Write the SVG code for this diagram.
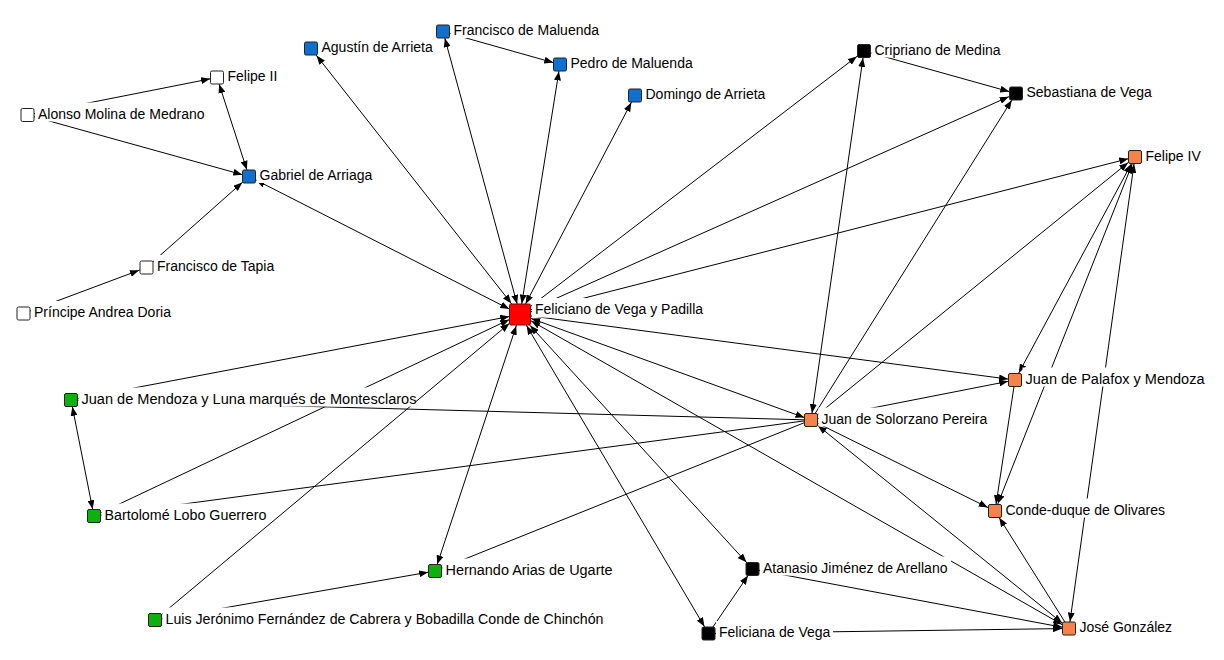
<svg xmlns="http://www.w3.org/2000/svg" width="1224" height="660" viewBox="0 0 1224 660">
<style>
.ln{stroke:#000;stroke-width:1;fill:none}
.lb{fill:#fff}
.t{font-family:"Liberation Sans",Arial,sans-serif;font-size:14px;fill:#000}
.nd{stroke:#222;stroke-width:1}
.w{fill:#fff}.b{fill:#1070D0}.g{fill:#0db00d}.o{fill:#F5824A}.k{fill:#000}.r{fill:#f00;stroke:#800}
</style>
<defs>
<marker id="s7" markerUnits="userSpaceOnUse" markerWidth="9" markerHeight="7" refX="16" refY="3.5" orient="auto-start-reverse"><path d="M0,0 L9,3.5 L0,7 z" fill="#000"/></marker>
<marker id="s8" markerUnits="userSpaceOnUse" markerWidth="9" markerHeight="7" refX="17" refY="3.5" orient="auto-start-reverse"><path d="M0,0 L9,3.5 L0,7 z" fill="#000"/></marker>
<marker id="s9" markerUnits="userSpaceOnUse" markerWidth="9" markerHeight="7" refX="18" refY="3.5" orient="auto-start-reverse"><path d="M0,0 L9,3.5 L0,7 z" fill="#000"/></marker>
<marker id="f11" markerUnits="userSpaceOnUse" markerWidth="9" markerHeight="7" refX="20" refY="3.5" orient="auto-start-reverse"><path d="M0,0 L9,3.5 L0,7 z" fill="#000"/></marker>
<marker id="f12" markerUnits="userSpaceOnUse" markerWidth="9" markerHeight="7" refX="21" refY="3.5" orient="auto-start-reverse"><path d="M0,0 L9,3.5 L0,7 z" fill="#000"/></marker>
<marker id="f13" markerUnits="userSpaceOnUse" markerWidth="9" markerHeight="7" refX="22" refY="3.5" orient="auto-start-reverse"><path d="M0,0 L9,3.5 L0,7 z" fill="#000"/></marker>
<marker id="f14" markerUnits="userSpaceOnUse" markerWidth="9" markerHeight="7" refX="23" refY="3.5" orient="auto-start-reverse"><path d="M0,0 L9,3.5 L0,7 z" fill="#000"/></marker>
<marker id="f15" markerUnits="userSpaceOnUse" markerWidth="9" markerHeight="7" refX="24" refY="3.5" orient="auto-start-reverse"><path d="M0,0 L9,3.5 L0,7 z" fill="#000"/></marker>
</defs>
<rect width="1224" height="660" fill="#fff"/>
<g id="connectors" class="ln">
<line x1="520" y1="314.5" x2="249" y2="176.5" marker-start="url(#f12)" marker-end="url(#s8)"/>
<line x1="520" y1="314.5" x2="311" y2="48.5" marker-start="url(#f14)" marker-end="url(#s9)"/>
<line x1="520" y1="314.5" x2="443" y2="31.5" marker-start="url(#f11)" marker-end="url(#s7)"/>
<line x1="520" y1="314.5" x2="560" y2="64.5" marker-start="url(#f11)" marker-end="url(#s7)"/>
<line x1="520" y1="314.5" x2="635" y2="95.5" marker-start="url(#f12)" marker-end="url(#s8)"/>
<line x1="520" y1="314.5" x2="864" y2="51" marker-end="url(#s9)"/>
<line x1="520" y1="314.5" x2="1016" y2="93.5" marker-end="url(#s8)"/>
<line x1="520" y1="314.5" x2="1135" y2="157" marker-end="url(#s7)"/>
<line x1="520" y1="314.5" x2="1015" y2="380" marker-end="url(#s7)"/>
<line x1="520" y1="314.5" x2="811" y2="420" marker-start="url(#f12)" marker-end="url(#s7)"/>
<line x1="520" y1="314.5" x2="1069" y2="628.5" marker-start="url(#f13)" marker-end="url(#s8)"/>
<line x1="520" y1="314.5" x2="752.5" y2="569" marker-start="url(#f15)" marker-end="url(#s9)"/>
<line x1="520" y1="314.5" x2="708.5" y2="633.5" marker-start="url(#f13)" marker-end="url(#s8)"/>
<line x1="520" y1="314.5" x2="435" y2="571" marker-start="url(#f12)" marker-end="url(#s7)"/>
<line x1="520" y1="314.5" x2="155" y2="620" marker-start="url(#f14)"/>
<line x1="520" y1="314.5" x2="71" y2="400" marker-start="url(#f11)"/>
<line x1="520" y1="314.5" x2="94" y2="516" marker-start="url(#f12)"/>
<line x1="27.5" y1="115" x2="217" y2="77.5" marker-end="url(#s7)"/>
<line x1="27.5" y1="115" x2="249" y2="176.5" marker-end="url(#s7)"/>
<line x1="217" y1="77.5" x2="249" y2="176.5" marker-start="url(#s7)" marker-end="url(#s7)"/>
<line x1="146.5" y1="267.5" x2="249" y2="176.5" marker-end="url(#s9)"/>
<line x1="23.5" y1="313.5" x2="146.5" y2="267.5" marker-end="url(#s8)"/>
<line x1="443" y1="31.5" x2="560" y2="64.5" marker-end="url(#s7)"/>
<line x1="864" y1="51" x2="1016" y2="93.5" marker-end="url(#s7)"/>
<line x1="811" y1="420" x2="864" y2="51" marker-start="url(#s7)" marker-end="url(#s7)"/>
<line x1="811" y1="420" x2="1016" y2="93.5" marker-end="url(#s8)"/>
<line x1="811" y1="420" x2="1135" y2="157" marker-end="url(#s9)"/>
<line x1="811" y1="420" x2="1015" y2="380" marker-end="url(#s7)"/>
<line x1="811" y1="420" x2="995" y2="511" marker-end="url(#s8)"/>
<line x1="811" y1="420" x2="1069" y2="628.5" marker-start="url(#s9)" marker-end="url(#s9)"/>
<line x1="811" y1="420" x2="71" y2="400"/>
<line x1="811" y1="420" x2="94" y2="516"/>
<line x1="811" y1="420" x2="435" y2="571"/>
<line x1="1135" y1="157" x2="1015" y2="380" marker-start="url(#s8)" marker-end="url(#s8)"/>
<line x1="1135" y1="157" x2="995" y2="511" marker-start="url(#s8)" marker-end="url(#s8)"/>
<line x1="1135" y1="157" x2="1069" y2="628.5" marker-start="url(#s7)" marker-end="url(#s7)"/>
<line x1="1015" y1="380" x2="995" y2="511" marker-end="url(#s7)"/>
<line x1="1069" y1="628.5" x2="995" y2="511" marker-end="url(#s8)"/>
<line x1="752.5" y1="569" x2="1069" y2="628.5" marker-end="url(#s7)"/>
<line x1="708.5" y1="633.5" x2="1069" y2="628.5" marker-end="url(#s7)"/>
<line x1="708.5" y1="633.5" x2="752.5" y2="569" marker-end="url(#s8)"/>
<line x1="155" y1="620" x2="435" y2="571" marker-end="url(#s7)"/>
<line x1="71" y1="400" x2="94" y2="516" marker-start="url(#s7)" marker-end="url(#s7)"/>
</g>
<g id="n-felipe-ii"><rect class="lb" x="224.5" y="65" width="57" height="19"/><rect class="nd w" x="210.5" y="71" width="13" height="13" rx="1.5"/><text class="t" x="227.5" y="81">Felipe II</text></g>
<g id="n-alonso"><rect class="lb" x="35" y="102.5" width="174" height="19"/><rect class="nd w" x="21" y="108.5" width="13" height="13" rx="1.5"/><text class="t" x="38" y="118.5">Alonso Molina de Medrano</text></g>
<g id="n-gabriel"><rect class="lb" x="256.5" y="164" width="119" height="19"/><rect class="nd b" x="242.5" y="170" width="13" height="13" rx="1.5"/><text class="t" x="259.5" y="180">Gabriel de Arriaga</text></g>
<g id="n-tapia"><rect class="lb" x="154" y="255" width="126" height="19"/><rect class="nd w" x="140" y="261" width="13" height="13" rx="1.5"/><text class="t" x="157" y="271">Francisco de Tapia</text></g>
<g id="n-doria"><rect class="lb" x="31" y="301" width="143" height="19"/><rect class="nd w" x="17" y="307" width="13" height="13" rx="1.5"/><text class="t" x="34" y="317">Príncipe Andrea Doria</text></g>
<g id="n-agustin"><rect class="lb" x="318.5" y="36" width="119" height="19"/><rect class="nd b" x="304.5" y="42" width="13" height="13" rx="1.5"/><text class="t" x="321.5" y="52">Agustín de Arrieta</text></g>
<g id="n-fmaluenda"><rect class="lb" x="450.5" y="19" width="152" height="19"/><rect class="nd b" x="436.5" y="25" width="13" height="13" rx="1.5"/><text class="t" x="453.5" y="35">Francisco de Maluenda</text></g>
<g id="n-pmaluenda"><rect class="lb" x="567.5" y="52" width="129" height="19"/><rect class="nd b" x="553.5" y="58" width="13" height="13" rx="1.5"/><text class="t" x="570.5" y="68">Pedro de Maluenda</text></g>
<g id="n-domingo"><rect class="lb" x="642.5" y="83" width="129" height="19"/><rect class="nd b" x="628.5" y="89" width="13" height="13" rx="1.5"/><text class="t" x="645.5" y="99">Domingo de Arrieta</text></g>
<g id="n-feliciano"><rect class="lb" x="532" y="298" width="174" height="19.5"/><rect class="nd r" x="509.5" y="304" width="21" height="21" rx="1.5"/><text class="t" x="535" y="314">Feliciano de Vega y Padilla</text></g>
<g id="n-cripriano"><rect class="lb" x="871.5" y="38.5" width="131" height="19"/><rect class="nd k" x="857.5" y="44.5" width="13" height="13" rx="1.5"/><text class="t" x="874.5" y="54.5">Cripriano de Medina</text></g>
<g id="n-sebastiana"><rect class="lb" x="1023.5" y="81" width="133" height="19"/><rect class="nd k" x="1009.5" y="87" width="13" height="13" rx="1.5"/><text class="t" x="1026.5" y="97">Sebastiana de Vega</text></g>
<g id="n-felipe-iv"><rect class="lb" x="1142.5" y="144.5" width="60" height="19"/><rect class="nd o" x="1128.5" y="150.5" width="13" height="13" rx="1.5"/><text class="t" x="1145.5" y="160.5">Felipe IV</text></g>
<g id="n-mendoza"><rect class="lb" x="78.5" y="387.5" width="337" height="19"/><rect class="nd g" x="64.5" y="393.5" width="13" height="13" rx="1.5"/><text class="t" x="81.5" y="403.5" textLength="335" lengthAdjust="spacingAndGlyphs">Juan de Mendoza y Luna marqués de Montesclaros</text></g>
<g id="n-bartolome"><rect class="lb" x="101.5" y="503.5" width="167" height="19"/><rect class="nd g" x="87.5" y="509.5" width="13" height="13" rx="1.5"/><text class="t" x="104.5" y="519.5" textLength="162" lengthAdjust="spacingAndGlyphs">Bartolomé Lobo Guerrero</text></g>
<g id="n-luis"><rect class="lb" x="162.5" y="607.5" width="444" height="19"/><rect class="nd g" x="148.5" y="613.5" width="13" height="13" rx="1.5"/><text class="t" x="165.5" y="623.5" textLength="438" lengthAdjust="spacingAndGlyphs">Luis Jerónimo Fernández de Cabrera y Bobadilla Conde de Chinchón</text></g>
<g id="n-hernando"><rect class="lb" x="442.5" y="558.5" width="173" height="19"/><rect class="nd g" x="428.5" y="564.5" width="13" height="13" rx="1.5"/><text class="t" x="445.5" y="574.5" textLength="167" lengthAdjust="spacingAndGlyphs">Hernando Arias de Ugarte</text></g>
<g id="n-atanasio"><rect class="lb" x="760" y="556.5" width="191" height="19"/><rect class="nd k" x="746" y="562.5" width="13" height="13" rx="1.5"/><text class="t" x="763" y="572.5">Atanasio Jiménez de Arellano</text></g>
<g id="n-feliciana"><rect class="lb" x="716" y="621" width="117" height="19"/><rect class="nd k" x="702" y="627" width="13" height="13" rx="1.5"/><text class="t" x="719" y="637">Feliciana de Vega</text></g>
<g id="n-solorzano"><rect class="lb" x="818.5" y="407.5" width="170" height="19"/><rect class="nd o" x="804.5" y="413.5" width="13" height="13" rx="1.5"/><text class="t" x="821.5" y="423.5">Juan de Solorzano Pereira</text></g>
<g id="n-palafox"><rect class="lb" x="1022.5" y="367.5" width="184" height="19"/><rect class="nd o" x="1008.5" y="373.5" width="13" height="13" rx="1.5"/><text class="t" x="1025.5" y="383.5" textLength="179" lengthAdjust="spacingAndGlyphs">Juan de Palafox y Mendoza</text></g>
<g id="n-conde"><rect class="lb" x="1002.5" y="498.5" width="166" height="19"/><rect class="nd o" x="988.5" y="504.5" width="13" height="13" rx="1.5"/><text class="t" x="1005.5" y="514.5">Conde-duque de Olivares</text></g>
<g id="n-jose"><rect class="lb" x="1076.5" y="616" width="98" height="19"/><rect class="nd o" x="1062.5" y="622" width="13" height="13" rx="1.5"/><text class="t" x="1079.5" y="632">José González</text></g>
</svg>
